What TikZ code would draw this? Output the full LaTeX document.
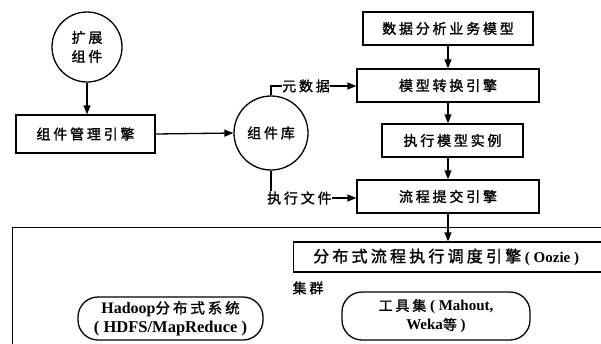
\documentclass[tikz,border=0pt]{standalone}
\usepackage{fontspec}
\setmainfont{Liberation Serif}
\newfontfamily\cjk[LetterSpace=20, FakeBold=1.5]{Noto Sans CJK SC}
\newcommand\lat[2][15]{{\rmfamily\bfseries\fontsize{#1}{19}\selectfont #2}}
\usetikzlibrary{arrows.meta}
\begin{document}
\begin{tikzpicture}[x=1pt,y=-1pt,
  every node/.style={font=\cjk\fontsize{14}{19}\selectfont, inner sep=0pt},
  boxnode/.style={draw, line width=1.3pt},
  circnode/.style={draw, circle, line width=1.3pt},
  roundnode/.style={draw, line width=1.3pt, rounded corners=20pt},
  conn/.style={line width=1.3pt},
  arr/.style={conn, -{Triangle[length=9pt,width=7pt]}}]
\useasboundingbox (0,0) rectangle (601,343);
\clip (0,0) rectangle (601,343);
% cluster frame
\node[boxnode, minimum width=620, minimum height=140, anchor=north west] (cluster) at (12,227) {};
\node (clusterlab) at (308,288) {集群};
% top-left
\node[circnode, minimum size=70, align=center] (ext) at (87,47) {扩展\\组件};
\node[boxnode, minimum width=139, minimum height=38] (mgr) at (85.5,134) {组件管理引擎};
\node[circnode, minimum size=74] (lib) at (271,133) {组件库};
% right column
\node[boxnode, minimum width=170, minimum height=33] (biz) at (448,28.5) {数据分析业务模型};
\node[boxnode, minimum width=182, minimum height=33] (conv) at (448,85.5) {模型转换引擎};
\node[boxnode, minimum width=141, minimum height=33] (inst) at (452.5,140.5) {执行模型实例};
\node[boxnode, minimum width=182, minimum height=33] (sub) at (448,196.5) {流程提交引擎};
\node[boxnode, minimum width=347, minimum height=30, anchor=west, font=\cjk\fontsize{16}{19}\selectfont] (oozie) at (293,257) {分布式流程执行调度引擎\lat{~(~Oozie~)}\rule{42pt}{0pt}};
% labels
\node[anchor=west] (meta) at (282,86) {元数据};
\node[anchor=west] (exe) at (267,198) {执行文件};
% bottom rounded boxes
\node[roundnode, minimum width=185, minimum height=43, align=center, font=\cjk\fontsize{14.5}{19}\selectfont] (hadoop) at (170.5,318.5) {\lat[16]{Hadoop}分布式系统\\\lat[16.5]{(~HDFS/MapReduce~)}};
\node[roundnode, minimum width=188, minimum height=48, align=center] (tools) at (436,316) {工具集\lat{~(~Mahout,}\\\lat{Weka}等\lat{~)}};
% connectors
\draw[arr] (ext.south) -- (ext.south |- mgr.north);
\draw[arr] (mgr.east) -- (lib.west);
\draw[conn] (lib.north) |- (meta.west);
\draw[arr] (meta.east) -- (meta.east -| conv.west);
\draw[conn] (lib.south) -- (lib.south |- exe.north);
\draw[arr] (exe.east) -- (exe.east -| sub.west);
\draw[arr] (biz.south) -- (conv.north);
\draw[arr] (conv.south) -- (conv.south |- inst.north);
\draw[arr] (conv.south |- inst.south) -- (sub.north);
\draw[arr] (sub.south) -- (sub.south |- oozie.north);
\end{tikzpicture}
\end{document}
